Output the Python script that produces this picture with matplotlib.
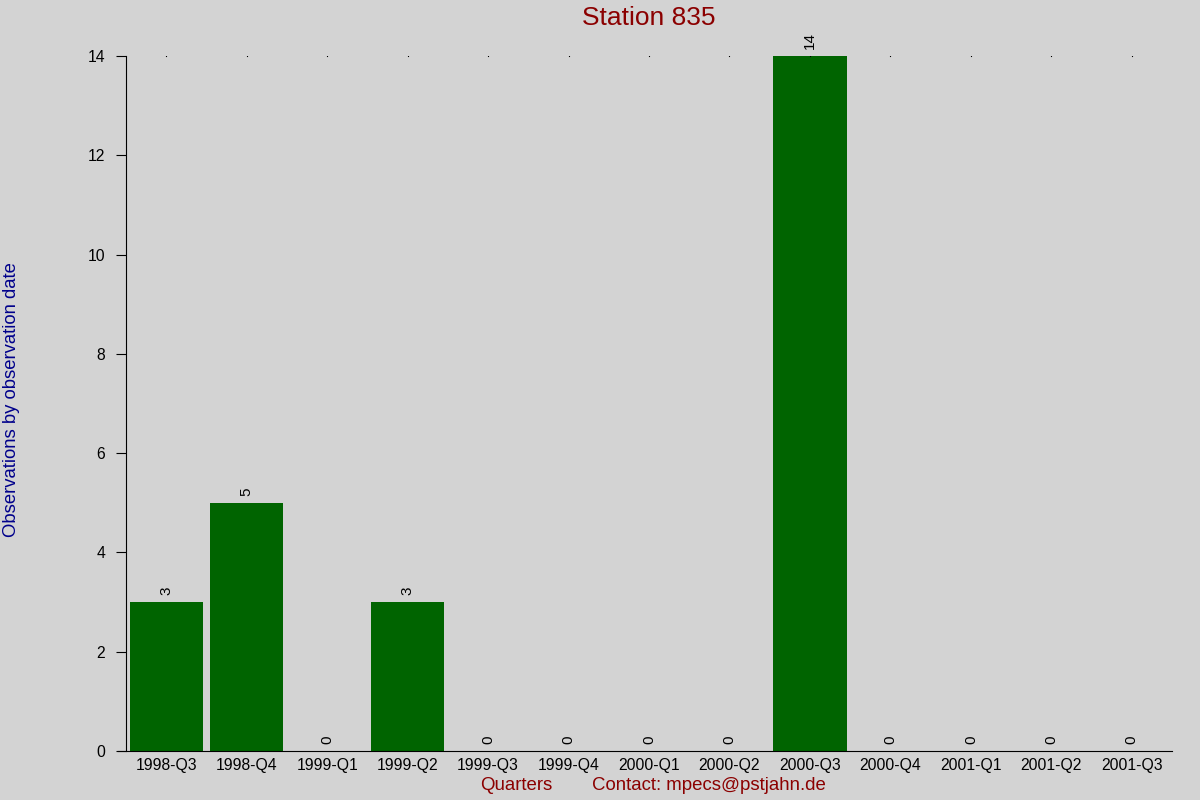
import matplotlib
matplotlib.use("Agg")
import matplotlib.pyplot as plt
import numpy as np

quarters = ["1998-Q3", "1998-Q4", "1999-Q1", "1999-Q2", "1999-Q3", "1999-Q4",
            "2000-Q1", "2000-Q2", "2000-Q3", "2000-Q4", "2001-Q1", "2001-Q2", "2001-Q3"]
counts = [3, 5, 0, 3, 0, 0, 0, 0, 14, 0, 0, 0, 0]
yticks = [0, 2, 4, 6, 8, 10, 12, 14]

plt.rcParams['font.family'] = ['Liberation Sans', 'DejaVu Sans']

BG = "#d3d3d3"
fig = plt.figure(figsize=(12, 8), dpi=100, facecolor=BG)
ax = fig.add_axes([0.0983, 0.06125, 0.8784, 0.86875])
ax.set_facecolor(BG)

x = np.arange(len(quarters))
ax.bar(x, counts, width=0.91, color="#006400")

for xi, c in zip(x, counts):
    ax.annotate(str(c), (xi, c), xytext=(0, 5), textcoords="offset points",
                rotation=90, ha="center", va="bottom", fontsize=11)

# tiny dots along the top line
ax.plot(x, [max(yticks)] * len(x), linestyle="none", marker="s", ms=0.8,
        mew=0, color="black")

ax.set_xlim(-0.6, 12.5)
ax.set_ylim(0, 14)
ax.set_xticks(x)
ax.set_xticklabels(quarters, fontsize=11.3)
ax.set_yticks(yticks)
ax.tick_params(axis="x", length=0, pad=5)
ax.tick_params(axis="y", length=7, labelsize=11.3, pad=8)

for s in ["top", "right"]:
    ax.spines[s].set_visible(False)
ax.spines["left"].set_position(("data", -0.5))

fig.text(0.541, 0.977, "Station 835", color="#8b0000", fontsize=19, ha="center", va="center")
fig.text(0.01, 0.5, "Observations by observation date", color="#00008b", fontsize=13.3,
         rotation=90, ha="center", va="center")
fig.text(0.43, 0.0175, "Quarters", color="#8b0000", fontsize=13.4, ha="center", va="center")
fig.text(0.591, 0.0175, "Contact: mpecs@pstjahn.de", color="#8b0000", fontsize=13.4,
         ha="center", va="center")

fig.savefig("out.png", dpi=100, facecolor=BG)
